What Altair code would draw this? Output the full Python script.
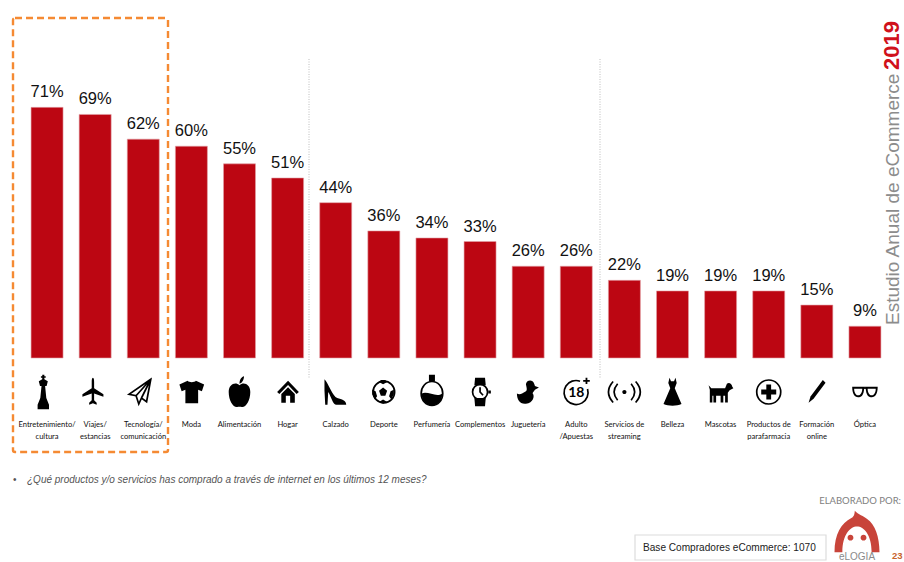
import altair as alt
import pandas as pd

categories = [
    "Entretenimiento/\ncultura", "Viajes/\nestancias", "Tecnología/\ncomunicación",
    "Moda", "Alimentación", "Hogar", "Calzado", "Deporte", "Perfumería",
    "Complementos", "Juguetería", "Adulto\n/Apuestas", "Servicios de\nstreaming",
    "Belleza", "Mascotas", "Productos de\nparafarmacia", "Formación\nonline", "Óptica",
]
values = [71, 69, 62, 60, 55, 51, 44, 36, 34, 33, 26, 26, 22, 19, 19, 19, 15, 9]

BALL = "M-.72,0 A.72,.72 0 1 1 .72,0 A.72,.72 0 1 1 -.72,0 Z"
RING = "M-.8,0 A.8,.8 0 1 1 .8,0 A.8,.8 0 1 1 -.8,0 Z"

# Pictograms in symbol units (-1..1 spans 30 px): solid shapes, then outlined ones
icons_fill = [
    "M-.32,-1.15 H-.18 V-1.05 H-.09 V-.95 H-.18 V-.85 L.05,-.72 L-.03,-.4 H-.13 L-.05,.4 L.13,.85 V1.15 H-.63 V.85 L-.45,.4 L-.37,-.4 H-.47 L-.55,-.72 L-.32,-.85 V-.95 H-.41 V-1.05 H-.32 Z",
    "M-.15,-.95 C-.08,-.95 -.07,-.8 -.07,-.65 V-.25 L.55,.15 V.32 L-.07,.1 V.55 L.1,.72 V.85 L-.15,.75 L-.4,.85 V.72 L-.23,.55 V.1 L-.85,.32 V.15 L-.23,-.25 V-.65 C-.23,-.8 -.22,-.95 -.15,-.95 Z",
    "",
    "M-.25,-.75 C-.15,-.62 .2,-.62 .3,-.75 L.85,-.5 L.7,-.05 L.45,-.15 V.75 H-.4 V-.15 L-.65,-.05 L-.8,-.5 Z",
    "M0,-.45 C.25,-.7 .72,-.55 .72,0 C.72,.6 .4,1.05 .15,1 C.08,.98 -.08,.98 -.15,1 C-.4,1.05 -.72,.6 -.72,0 C-.72,-.55 -.25,-.7 0,-.45 Z M0,-.55 C0,-.85 .15,-1 .3,-1.05 C.3,-.85 .2,-.6 0,-.55 Z",
    "M.03,-.75 L.75,0 L.6,.13 L.03,-.47 L-.55,.13 L-.7,0 Z M-.42,.13 L.03,-.32 L.48,.13 V.72 H.17 V.25 H-.12 V.72 H-.42 Z",
    "M-.75,-.85 C-.5,-.6 -.2,.3 .1,.4 C.4,.5 .7,.55 .7,.85 H.05 C-.2,.85 -.3,.3 -.5,0 L-.55,.85 H-.7 L-.75,-.1 Z",
    "M-.05,-.3 L.22,-.08 L.1,.25 H-.2 L-.32,-.08 Z M-.3,-.65 L-.05,-.52 L.2,-.65 L.1,-.8 H-.2 Z M.67,-.15 L.45,-.05 L.35,.28 L.5,.5 L.67,.15 Z M-.77,-.15 L-.55,-.05 L-.45,.28 L-.6,.5 L-.77,.15 Z M-.3,.65 L-.05,.5 L.2,.65 L-.05,.78 Z",
    "M-.2,-1.15 H.2 V-.72 H-.2 Z M-.68,.1 C-.3,-.1 .3,.4 .68,.1 C.7,.65 .3,.9 0,.9 C-.3,.9 -.7,.65 -.68,.1 Z",
    "M-.33,-.95 H.33 L.38,-.45 H-.38 Z M-.38,.4 H.38 L.33,.95 H-.33 Z M.55,-.1 H.72 V.1 H.55 Z",
    "M-.75,.1 C-.55,.25 -.35,.05 -.15,-.05 C-.05,-.1 -.1,-.3 -.15,-.5 C-.15,-.8 .3,-.9 .4,-.55 C.42,-.5 .45,-.45 .45,-.4 L.72,-.3 L.45,-.15 C.4,-.05 .3,0 .3,.1 C.45,.25 .35,.75 -.15,.78 C-.55,.83 -.75,.5 -.75,.1 Z",
    "M.62,-.95 H.74 V-.8 H.9 V-.68 H.74 V-.53 H.62 V-.68 H.46 V-.8 H.62 Z",
    "M-.14,0 A.14,.14 0 1 1 .14,0 A.14,.14 0 1 1 -.14,0 Z",
    "M-.2,-.95 L-.1,-.72 H.1 L.2,-.95 L.28,-.6 L.15,-.25 L.6,.8 C.3,.95 -.3,.95 -.6,.8 L-.15,-.25 L-.28,-.6 Z",
    "M-.8,-.45 L-.62,-.25 H.3 L.42,-.55 C.55,-.65 .72,-.6 .78,-.35 L.85,-.25 L.6,-.12 L.48,.05 V.7 H.3 V.25 H.18 V.7 H0 V.25 H-.3 V.7 H-.48 V.25 H-.55 V.7 H-.72 V-.15 Z",
    "M-.16,-.5 H.16 V-.16 H.5 V.16 H.16 V.5 H-.16 V.16 H-.5 V-.16 H-.16 Z",
    "M.4,-.8 L.58,-.62 L-.22,.45 L-.55,.72 L-.42,.3 Z",
    "M-.85,-.35 H-.05 C-.05,.3 -.3,.35 -.45,.35 C-.7,.35 -.85,.1 -.85,-.35 Z M-.72,-.22 C-.72,.05 -.6,.22 -.45,.22 C-.3,.22 -.18,.05 -.18,-.22 Z "
    "M.05,-.35 H.85 C.85,.1 .7,.35 .45,.35 C.3,.35 .05,.3 .05,-.35 Z M.18,-.22 C.18,.05 .3,.22 .45,.22 C.6,.22 .72,.05 .72,-.22 Z "
    "M-.05,-.35 H.05 V-.2 H-.05 Z",
]
icons_stroke = [
    "", "",
    "M.5,-.85 L-.95,.15 L-.48,.25 L-.3,.8 L-.12,.4 L.22,.65 Z M.5,-.85 L-.48,.25 M.5,-.85 L-.12,.4",
    "", "", "", "",
    BALL,
    "M-.72,.1 C-.72,-.35 -.4,-.7 0,-.7 C.4,-.7 .72,-.35 .72,.1 C.72,.55 .4,.9 0,.9 C-.4,.9 -.72,.55 -.72,.1 Z",
    "M-.5,0 A.5,.5 0 1 1 .5,0 A.5,.5 0 1 1 -.5,0 Z M0,-.32 V0 L.2,.22",
    "",
    "M.25,-.72 A.8,.8 0 1 0 .75,-.2",
    "M-.45,-.55 C-.75,-.2 -.75,.2 -.45,.55 M.45,-.55 C.75,-.2 .75,.2 .45,.55 M-.75,-.7 C-1.15,-.25 -1.15,.25 -.75,.7 M.75,-.7 C1.15,-.25 1.15,.25 .75,.7",
    "", "",
    RING,
    "",
    "",
]

LOGO = (
    "M-1,.9 C-1,.1 -.7,-.4 -.25,-.62 C-.12,-.7 -.1,-.85 -.1,-.95 C.05,-.78 .3,-.72 .45,-.58 "
    "C.8,-.35 1,.2 1,.9 H.65 C.65,.1 .3,-.25 0,-.25 C-.3,-.25 -.65,.1 -.65,.9 Z "
    "M-.42,.25 A.13,.13 0 1 1 -.16,.25 A.13,.13 0 1 1 -.42,.25 Z "
    "M.16,.25 A.13,.13 0 1 1 .42,.25 A.13,.13 0 1 1 .16,.25 Z"
)

bars = pd.DataFrame({
    "categoria": categories,
    "valor": values,
    "rotulo": [f"{v}%" for v in values],
    "solido": icons_fill,
    "trazo": icons_stroke,
})

SANS = "Liberation Sans"
LABEL = "Lato"
x = alt.X(
    "categoria:N",
    axis=None,
    scale=alt.Scale(domain=categories, range=[23, 889], paddingInner=0.335, paddingOuter=0.1675),
)
y = alt.Y("valor:Q", axis=None, scale=alt.Scale(domain=[0, 100], range=[358, 5]))

base = alt.Chart(bars)

columns = base.mark_bar(color="#BC0612", stroke="#E3A3A8", strokeWidth=0.6).encode(x=x, y=y)
value_labels = base.mark_text(
    font=SANS, fontSize=16.5, color="#111111", baseline="bottom", dy=-7
).encode(x=x, y=y, text="rotulo:N")
names = base.mark_text(
    font=LABEL, fontSize=7.6, color="#111111", lineBreak="\n", lineHeight=12, baseline="middle"
).encode(x=x, y=alt.value(425), text="categoria:N")
solid_icons = base.transform_filter("datum.solido != ''").mark_point(
    filled=True, color="#000000", size=900, opacity=1
).encode(x=x, y=alt.value(392), shape=alt.Shape("solido:N", scale=None))
line_icons = base.transform_filter("datum.trazo != ''").mark_point(
    filled=False, color="#000000", size=900, strokeWidth=1.7, opacity=1
).encode(x=x, y=alt.value(392), shape=alt.Shape("trazo:N", scale=None))
age_mark = base.transform_filter("datum.categoria == 'Adulto\\n/Apuestas'").mark_text(
    font=LABEL, fontSize=14, fontWeight="bold", color="#000000", baseline="middle"
).encode(x=x, y=alt.value(393), text=alt.value("18"))


def note(text, px, py, **style):
    frame = pd.DataFrame({"t": [text]})
    return alt.Chart(frame).mark_text(**style).encode(
        x=alt.value(px), y=alt.value(py), text="t:N"
    )


def frame_box(x0, x1, y0, y1, **style):
    return alt.Chart(pd.DataFrame({"k": [0]})).mark_rect(fill="white", **style).encode(
        x=alt.value(x0), x2=alt.value(x1), y=alt.value(y0), y2=alt.value(y1)
    )


def divider(px):
    return alt.Chart(pd.DataFrame({"k": [0]})).mark_rule(
        color="#BDBDBD", strokeWidth=1, strokeDash=[1, 1.5]
    ).encode(x=alt.value(px), y=alt.value(59), y2=alt.value(378))


highlight = frame_box(
    13, 168, 18, 452, fillOpacity=0, stroke="#F58A33", strokeWidth=2.4,
    strokeDash=[7, 4], cornerRadius=2,
)
base_box = frame_box(635, 826, 535, 560, stroke="#DCDCDC", strokeWidth=1.2)
logo = alt.Chart(pd.DataFrame({"p": [LOGO]})).mark_point(
    filled=True, color="#C8443A", size=2025, opacity=1
).encode(x=alt.value(857), y=alt.value(532), shape=alt.Shape("p:N", scale=None))

chart = alt.layer(
    highlight,
    divider(309),
    divider(600),
    columns,
    value_labels,
    solid_icons,
    line_icons,
    age_mark,
    names,
    note("•", 13, 480, font=SANS, fontSize=10, color="#555555", align="left", baseline="middle"),
    note(
        "¿Qué productos y/o servicios has comprado a través de internet en los últimos 12 meses?",
        27, 480, font=SANS, fontSize=10, fontStyle="italic", color="#555555",
        align="left", baseline="middle",
    ),
    note("ELABORADO POR:", 901, 501, font=LABEL, fontSize=9.5, color="#808080", align="right", baseline="middle"),
    base_box,
    note("Base Compradores eCommerce: 1070", 643, 548, font=SANS, fontSize=10.1,
         color="#222222", align="left", baseline="middle"),
    logo,
    note("eLOGIA", 857, 560, font=SANS, fontSize=10, color="#8A8A8A", align="center", baseline="alphabetic"),
    note("23", 892, 556, font=SANS, fontSize=9.5, fontWeight="bold", color="#C8642D", align="left", baseline="middle"),
    note("Estudio Anual de eCommerce", 899, 325, font=SANS, fontSize=19, color="#8C8C8C",
         angle=270, align="left", baseline="alphabetic"),
    note("2019", 899, 70, font=SANS, fontSize=22, fontWeight="bold", color="#D0111B",
         angle=270, align="left", baseline="alphabetic"),
).properties(
    width=904, height=562, padding=0, autosize="none", background="#FFFFFF"
).configure_view(stroke=None)

chart.save("out.html", embed_options={"renderer": "svg", "actions": False})
